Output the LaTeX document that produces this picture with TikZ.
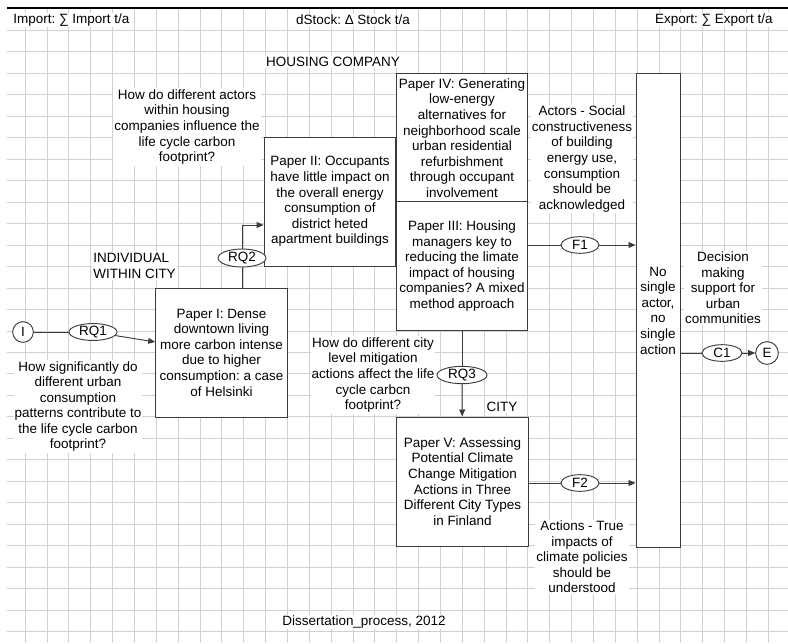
\documentclass[tikz,border=0pt]{standalone}
\usepackage{fontspec}
\setmainfont{Liberation Sans}
\usetikzlibrary{shapes.geometric,arrows.meta,positioning,calc}
\definecolor{gridcolor}{RGB}{208,208,208}
\definecolor{linecolor}{RGB}{60,60,60}
\frenchspacing

\begin{document}
\begin{tikzpicture}[x=0.03cm, y=-0.03cm,
  font=\fontsize{11.5}{13.3}\selectfont,
  >={Triangle[length=6pt,width=5pt]},
  gridline/.style={draw=gridcolor, line width=0.6pt},
  paper/.style={rectangle, draw=linecolor, line width=0.8pt, fill=white, minimum width=3.95cm, minimum height=3.87cm, align=center, inner sep=1pt},
  actorbox/.style={paper, minimum width=1.32cm, minimum height=14.2cm},
  note/.style={fill=white, align=center, inner sep=1pt},
  tag/.style={ellipse, draw=linecolor, line width=0.8pt, fill=white, minimum width=1.44cm, minimum height=0.5cm, inner sep=0pt},
  terminal/.style={circle, draw=linecolor, line width=0.8pt, fill=white, minimum size=0.62cm, inner sep=0pt},
  flow/.style={draw=linecolor, line width=0.8pt}
]
\useasboundingbox (0,0) rectangle (788,643);

% Grid paper
\foreach \k in {0,...,34}
  \draw[gridline] ({25+21.86*\k},8) -- ({25+21.86*\k},643);
\foreach \j in {0,...,28}
  \draw[gridline] (7,{30+21.49*\j}) -- (788,{30+21.49*\j});
\draw[black, line width=1pt] (7,8) -- (788,8);

% Header row
\node[note, anchor=west] (import) at (12,20) {Import: ∑ Import t/a};
\node[note] (dstock) at (353,20) {dStock: Δ Stock t/a};
\node[note, anchor=east] (export) at (774,20) {Export: ∑ Export t/a};

% Levels
\node[note] (housing) at (333,62) {HOUSING COMPANY};
\node[note, align=left, anchor=west] (individual) at (92,266) {INDIVIDUAL\\WITHIN CITY};
\node[note] (city) at (502,407) {CITY};

% Papers
\node[paper] (p1) at (221.5,352.5) {Paper I: Dense\\downtown living\\more carbon intense\\due to higher\\consumption: a case\\of Helsinki};
\node[paper] (p2) at (330,201.5) {Paper II: Occupants\\have little impact on\\the overall energy\\consumption of\\district heted\\apartment buildings};
\node[paper] (p4) at (462,138) {Paper IV: Generating\\low-energy\\alternatives for\\neighborhood scale\\urban residential\\refurbishment\\through occupant\\involvement};
\node[paper] (p3) at (462,266) {Paper III: Housing\\managers key to\\reducing the limate\\impact of housing\\companies? A mixed\\method approach};
\node[paper] (p5) at (462.5,481.5) {Paper V: Assessing\\Potential Climate\\Change Mitigation\\Actions in Three\\Different City Types\\in Finland};
\node[actorbox] (actor) at (658,310.5) {No\\single\\actor,\\no\\single\\action};

% Questions and findings
\node[note] (q1) at (78,406.5) {How significantly do\\different urban\\consumption\\patterns contribute to\\the life cycle carbon\\footprint?};
\node[note] (q2) at (187,127) {How do different actors\\within housing\\companies influence the\\life cycle carbon\\footprint?};
\node[note] (q3) at (373,375) {How do different city\\level mitigation\\actions affect the life\\cycle carbcn\\footprint?};
\node[note] (f1text) at (582,159) {Actors - Social\\constructiveness\\of building\\energy use,\\consumption\\should be\\acknowledged};
\node[note] (f2text) at (582,557) {Actions - True\\impacts of\\climate policies\\should be\\understood};
\node[note] (decision) at (723,288) {Decision\\making\\support for\\urban\\communities};
\node[note] (footer) at (364,622) {Dissertation\_process, 2012};

% Start, end and tags
\node[terminal] (I) at (23,332) {I};
\node[tag] (RQ1) at (93,332) {RQ1};
\node[tag, minimum height=0.54cm] (RQ2) at (242,258) {RQ2};
\node[tag, minimum width=1.5cm, minimum height=0.52cm] (RQ3) at (462,375) {RQ3};
\node[tag, minimum width=1.14cm] (F1) at (580,245) {F1};
\node[tag, minimum width=1.14cm] (F2) at (580,483) {F2};
\node[tag, minimum width=1.2cm] (C1) at (722,353) {C1};
\node[terminal, minimum size=0.68cm] (E) at (767,353) {E};
\coordinate (bend) at (242,225);

% Connections
\draw[flow] (I) -- (RQ1);
\draw[flow,->] (RQ1) -- (p1);
\draw[flow] (p1.north -| RQ2) -- (RQ2);
\draw[flow,->] (RQ2) -- (bend) -- (bend -| p2.west);
\draw[flow] (p3.east |- F1) -- (F1);
\draw[flow,->] (F1) -- (F1 -| actor.west);
\draw[flow] (p3) -- (RQ3);
\draw[flow,->] (RQ3) -- (p5);
\draw[flow] (p5.east |- F2) -- (F2);
\draw[flow,->] (F2) -- (F2 -| actor.west);
\draw[flow] (actor.east |- C1) -- (C1);
\draw[flow,->] (C1) -- (E);

\end{tikzpicture}
\end{document}
